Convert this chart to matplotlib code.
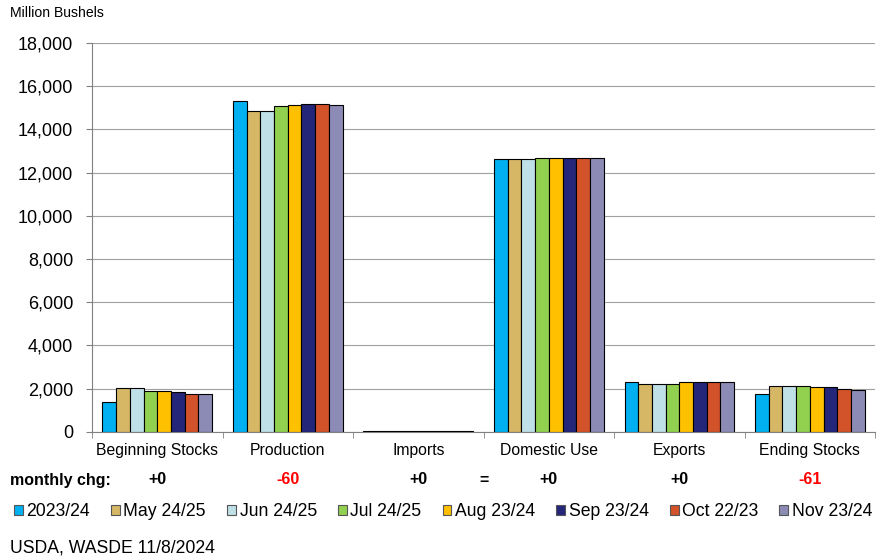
import numpy as np
import matplotlib.pyplot as plt

plt.rcParams['font.family'] = ['Liberation Sans', 'DejaVu Sans']

categories = ['Beginning Stocks', 'Production', 'Imports', 'Domestic Use', 'Exports', 'Ending Stocks']
series_names = ['2023/24', 'May 24/25', 'Jun 24/25', 'Jul 24/25', 'Aug 23/24', 'Sep 23/24', 'Oct 22/23', 'Nov 23/24']
values = [
    [1360, 15341, 28, 12621, 2292, 1763],
    [2022, 14860, 25, 12610, 2200, 2102],
    [2022, 14860, 25, 12610, 2200, 2102],
    [1877, 15100, 25, 12690, 2200, 2097],
    [1877, 15147, 25, 12665, 2300, 2073],
    [1837, 15186, 25, 12665, 2325, 2057],
    [1760, 15203, 25, 12665, 2325, 1999],
    [1763, 15143, 25, 12665, 2325, 1938],
]
monthly_chg = ['+0', '-60', '+0', '+0', '+0', '-61']
colors = ['#00B0F0', '#D6B766', '#BEE0E6', '#92D050', '#FFC000', '#24267A', '#D2522A', '#8B8BB5']

fig = plt.figure(figsize=(8.76, 5.6), dpi=100)
ax = fig.add_axes([0.105, 0.229, 0.894, 0.694])

n = len(series_names)
x = np.arange(len(categories))
group_w = 0.84
w = group_w / n
for i in range(n):
    ax.bar(x - group_w / 2 + w * (i + 0.5), values[i], width=w, color=colors[i],
           edgecolor='black', linewidth=0.8, label=series_names[i], zorder=3)

ax.set_xlim(-0.5, len(categories) - 0.5)
ax.set_ylim(0, 18000)
ax.set_yticks(np.arange(0, 18001, 2000))
ax.set_yticklabels([f'{v:,}' for v in range(0, 18001, 2000)], fontsize=13)
ax.yaxis.grid(True, color='#A0A0A0', linewidth=0.8, zorder=0)
ax.set_xticks(x)
ax.set_xticklabels(categories, fontsize=11.3)
ax.set_xticks(np.arange(-0.5, len(categories)), minor=True)
ax.tick_params(axis='x', which='major', length=0, pad=8)
ax.tick_params(axis='x', which='minor', length=4.5, color='#808080')
ax.tick_params(axis='y', length=4.5, color='#808080', pad=9)
for s in ['top', 'right']:
    ax.spines[s].set_visible(False)
for s in ['left', 'bottom']:
    ax.spines[s].set_color('#808080')

fig.text(10 / 876, 1 - 13 / 560, 'Million Bushels', fontsize=10.1, va='center')

row_y = 1 - 480 / 560
fig.text(10 / 876, row_y, 'monthly chg:', fontsize=11.5, fontweight='bold', va='center')
for i, c in enumerate(monthly_chg):
    xf = ax.transData.transform((x[i], 0))[0] / fig.bbox.width
    fig.text(xf, row_y, c, fontsize=11.5, fontweight='bold', va='center', ha='center',
             color='red' if c.startswith('-') else 'black')
xeq = ax.transData.transform((2.5, 0))[0] / fig.bbox.width
fig.text(xeq, row_y, '=', fontsize=11.5, fontweight='bold', va='center', ha='center')

handles, labels = ax.get_legend_handles_labels()
leg = fig.legend(handles, labels, ncol=8, loc='center left', bbox_to_anchor=(14 / 876, 1 - 512 / 560),
                 frameon=False, fontsize=12.7, handlelength=0.5, handleheight=0.5,
                 handletextpad=0.2, columnspacing=1.2, borderpad=0, borderaxespad=0)
for h in leg.legend_handles:
    h.set_edgecolor('#555555')
    h.set_linewidth(0.8)

fig.text(10 / 876, 1 - 548 / 560, 'USDA, WASDE 11/8/2024', fontsize=12.7, va='center')

fig.savefig('out.png', dpi=100)
